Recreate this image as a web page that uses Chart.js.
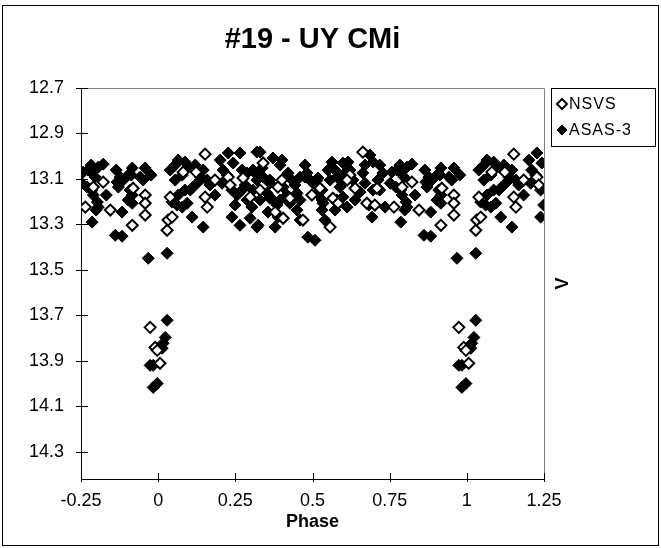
<!DOCTYPE html>
<html>
<head>
<meta charset="utf-8">
<title>#19 - UY CMi</title>
<script src="https://cdn.jsdelivr.net/npm/chart.js"></script>
<style>
  html, body { margin: 0; padding: 0; background: #fff; }
</style>
</head>
<body>
<canvas id="lightCurve" width="661" height="548"></canvas>
<script>
// folded V light curve of UY CMi, phases 0..1 (the wrap-around copies are added in foldPoints)
const nsvsPhase = [0.764, 0.790, 0.822, 0.845, 0.916, 0.919, 0.958, 0.958, 0.958, 0.974,
  0.990, 0.997, 0.006, 0.029, 0.032, 0.039, 0.045, 0.081, 0.152, 0.152,
  0.159, 0.184, 0.227, 0.233, 0.298, 0.340, 0.330, 0.401, 0.388, 0.405,
  0.379, 0.469, 0.498, 0.557, 0.566, 0.583, 0.663, 0.621, 0.612, 0.676,
  0.702, 0.709, 0.275, 0.427, 0.524, 0.638, 0.123];
const nsvsMag = [13.224, 13.136, 13.114, 13.237, 13.304, 13.141, 13.171, 13.207, 13.259, 13.753,
  13.841, 13.854, 13.911, 13.326, 13.281, 13.180, 13.268, 13.070, 12.991, 13.180,
  13.224, 13.105, 13.092, 13.127, 13.180, 13.030, 13.149, 13.105, 13.136, 13.273,
  13.246, 13.281, 13.171, 13.312, 13.185, 13.207, 12.982, 13.083, 13.105, 13.207,
  13.215, 13.141, 13.096, 13.185, 13.141, 13.141, 13.070];

const asasPhase = [0.757, 0.773, 0.786, 0.796, 0.806, 0.822, 0.752, 0.770, 0.786, 0.790,
  0.803, 0.806, 0.786, 0.861, 0.883, 0.877, 0.887, 0.867, 0.871, 0.916,
  0.903, 0.909, 0.916, 0.903, 0.883, 0.958, 0.942, 0.951, 0.916, 0.968,
  0.974, 0.984, 0.984, 0.997, 0.013, 0.016, 0.023, 0.029, 0.029, 0.039,
  0.065, 0.087, 0.097, 0.055, 0.045, 0.061, 0.078, 0.094, 0.104, 0.113,
  0.126, 0.136, 0.110, 0.146, 0.146, 0.136, 0.159, 0.210, 0.223, 0.207,
  0.227, 0.265, 0.243, 0.272, 0.288, 0.239, 0.256, 0.272, 0.249, 0.288,
  0.304, 0.239, 0.265, 0.298, 0.320, 0.320, 0.307, 0.320, 0.330, 0.372,
  0.340, 0.362, 0.353, 0.372, 0.307, 0.324, 0.379, 0.388, 0.421, 0.434,
  0.417, 0.427, 0.450, 0.460, 0.482, 0.492, 0.485, 0.508, 0.515, 0.531,
  0.534, 0.531, 0.563, 0.573, 0.557, 0.579, 0.589, 0.599, 0.612, 0.615,
  0.621, 0.631, 0.686, 0.696, 0.663, 0.670, 0.654, 0.696, 0.712, 0.728,
  0.693, 0.735, 0.320, 0.362, 0.405, 0.450, 0.460, 0.476, 0.502, 0.518,
  0.515, 0.531, 0.599, 0.599, 0.644, 0.579, 0.573, 0.330, 0.362, 0.385,
  0.718, 0.395, 0.055, 0.078, 0.120, 0.168, 0.184, 0.201, 0.087, 0.065,
  0.282, 0.337, 0.395, 0.443, 0.476, 0.401, 0.356, 0.460, 0.550, 0.605,
  0.638, 0.540, 0.670, 0.718, 0.683, 0.783, 0.832, 0.864, 0.913, 0.977,
  0.799];
const asasMag = [13.070, 13.061, 13.074, 13.092, 13.048, 13.035, 13.119, 13.136, 13.149, 13.171,
  13.202, 13.224, 13.290, 13.348, 13.352, 13.092, 13.105, 13.114, 13.136, 13.052,
  13.083, 13.149, 13.171, 13.193, 13.246, 13.052, 13.092, 13.105, 13.207, 13.449,
  13.920, 13.920, 14.017, 14.000, 13.845, 13.823, 13.797, 13.722, 13.427, 13.061,
  13.017, 13.026, 13.048, 13.105, 13.202, 13.215, 13.224, 13.207, 13.149, 13.136,
  13.119, 13.105, 13.268, 13.312, 13.061, 13.092, 13.105, 13.061, 13.083, 13.119,
  12.986, 12.986, 13.030, 13.061, 13.074, 13.149, 13.171, 13.149, 13.215, 13.193,
  13.224, 13.268, 13.304, 13.273, 13.312, 12.982, 13.061, 13.105, 12.982, 13.008,
  13.092, 13.105, 13.163, 13.193, 13.149, 13.304, 13.312, 13.268, 13.074, 13.105,
  13.171, 13.207, 13.237, 13.092, 13.074, 13.105, 13.356, 13.370, 13.105, 13.149,
  13.207, 13.237, 13.026, 13.061, 13.105, 13.092, 13.136, 13.180, 13.224, 13.026,
  13.061, 13.105, 12.995, 13.026, 13.074, 13.119, 13.158, 13.149, 13.105, 13.074,
  13.268, 13.224, 13.083, 13.119, 13.136, 13.163, 13.193, 13.092, 13.119, 13.096,
  13.163, 13.193, 13.030, 13.119, 13.149, 13.193, 13.237, 13.193, 13.185, 13.215,
  13.149, 13.039, 13.039, 13.083, 13.039, 13.127, 13.171, 13.017, 13.149, 13.171,
  13.127, 13.052, 13.193, 13.127, 13.039, 13.017, 13.246, 13.281, 13.061, 13.074,
  13.193, 13.281, 13.039, 13.039, 13.215, 13.039, 13.171, 13.061, 13.083, 13.083,
  13.237];

const phaseTicks = [-0.25, 0, 0.25, 0.5, 0.75, 1, 1.25];
const magTicks = [12.7, 12.9, 13.1, 13.3, 13.5, 13.7, 13.9, 14.1, 14.3];

const FONT = '"Liberation Sans", Arial, sans-serif';

// repeat the ends of the cycle so the plot runs from -0.25 to 1.25
function foldPoints(phases, mags) {
  const pts = [];
  phases.forEach((p, i) => {
    pts.push({ x: p, y: mags[i] });
    if (p >= 0.75) pts.push({ x: p - 1, y: mags[i] });
    if (p < 0.25) pts.push({ x: p + 1, y: mags[i] });
  });
  return pts;
}

const series = [
  { label: 'NSVS', fill: '#ffffff', border: 2, radius: 5.5 },
  { label: 'ASAS-3', fill: '#000000', border: 1, radius: 6 }
];

// frame, axis lines, tick marks, side label, legend and title
const decorations = {
  id: 'decorations',
  beforeDraw(chart) {
    const ctx = chart.ctx;
    ctx.save();
    ctx.fillStyle = '#fff';
    ctx.fillRect(0, 0, chart.width, chart.height);
    ctx.strokeStyle = '#000';
    ctx.lineWidth = 1;
    ctx.strokeRect(2.5, 5.5, chart.width - 5, chart.height - 8);
    ctx.restore();
  },
  beforeDatasetsDraw(chart) {
    const { ctx, chartArea: a, scales: { x, y } } = chart;
    ctx.save();
    ctx.lineWidth = 1;
    ctx.strokeStyle = '#808080';
    ctx.beginPath();
    ctx.moveTo(a.left, a.top + 0.5);
    ctx.lineTo(a.right + 0.5, a.top + 0.5);
    ctx.lineTo(a.right + 0.5, a.bottom);
    ctx.stroke();
    ctx.strokeStyle = '#000';
    ctx.beginPath();
    ctx.moveTo(a.left + 0.5, a.top);
    ctx.lineTo(a.left + 0.5, a.bottom + 0.5);
    ctx.lineTo(a.right + 1, a.bottom + 0.5);
    magTicks.forEach(v => {
      const py = Math.round(y.getPixelForValue(v)) + 0.5;
      ctx.moveTo(a.left - 5, py);
      ctx.lineTo(a.left + 7, py);
    });
    phaseTicks.forEach(v => {
      const px = Math.round(x.getPixelForValue(v)) + 0.5;
      ctx.moveTo(px, a.bottom - 6);
      ctx.lineTo(px, a.bottom + 3);
    });
    ctx.stroke();
    ctx.restore();
  },
  afterDraw(chart) {
    const { ctx, chartArea: a } = chart;
    ctx.save();
    ctx.fillStyle = '#000';

    ctx.font = 'bold 29px ' + FONT;
    ctx.textAlign = 'center';
    ctx.textBaseline = 'middle';
    ctx.fillText('#19 - UY CMi', (a.left + a.right) / 2, 40);

    ctx.save();
    ctx.translate(563, (a.top + a.bottom) / 2);
    ctx.rotate(-Math.PI / 2);
    ctx.font = 'bold 18px ' + FONT;
    ctx.fillText('V', 0, 0);
    ctx.restore();

    // legend box
    ctx.strokeStyle = '#000';
    ctx.lineWidth = 1;
    ctx.strokeRect(551.5, 88.5, 104, 58);
    ctx.font = '16px ' + FONT;
    ctx.textAlign = 'left';
    if ('letterSpacing' in ctx) ctx.letterSpacing = '1px';
    series.forEach((s, i) => {
      const ly = 104 + i * 26;
      ctx.fillStyle = s.fill;
      ctx.strokeStyle = '#000';
      ctx.lineWidth = s.border;
      Chart.helpers.drawPoint(ctx, { pointStyle: 'rectRot', radius: 5, rotation: 0, borderWidth: s.border }, 562, ly);
      ctx.fillStyle = '#000';
      ctx.fillText(s.label, 569, ly + 1);
    });
    ctx.restore();
  }
};

new Chart(document.getElementById('lightCurve'), {
  type: 'scatter',
  data: {
    datasets: series.map((s, i) => ({
      label: s.label,
      data: i === 0 ? foldPoints(nsvsPhase, nsvsMag) : foldPoints(asasPhase, asasMag),
      pointStyle: 'rectRot',
      pointRadius: s.radius,
      pointHoverRadius: s.radius,
      pointBackgroundColor: s.fill,
      pointBorderColor: '#000',
      pointBorderWidth: s.border
    }))
  },
  options: {
    responsive: false,
    animation: false,
    layout: { padding: { top: 88, right: 117, left: 0, bottom: 0 } },
    plugins: {
      legend: { display: false },
      title: { display: false },
      tooltip: { enabled: false }
    },
    scales: {
      x: {
        type: 'linear',
        min: -0.25,
        max: 1.25,
        afterBuildTicks: s => { s.ticks = phaseTicks.map(v => ({ value: v })); },
        afterFit: s => { s.height = 69; },
        grid: { display: false, drawTicks: false },
        border: { display: false },
        ticks: {
          color: '#000',
          font: { family: FONT, size: 18 },
          padding: 11,
          maxRotation: 0,
          callback: v => String(v)
        },
        title: {
          display: true,
          text: 'Phase',
          color: '#000',
          font: { family: FONT, size: 18, weight: 'bold' },
          padding: { top: 0, bottom: 15 }
        }
      },
      y: {
        type: 'linear',
        reverse: true,
        min: 12.7,
        max: 14.42,
        afterBuildTicks: s => { s.ticks = magTicks.map(v => ({ value: v })); },
        afterFit: s => { s.width = 81; },
        grid: { display: false, drawTicks: false },
        border: { display: false },
        ticks: {
          color: '#000',
          font: { family: FONT, size: 18 },
          padding: 17,
          callback: v => v.toFixed(1)
        }
      }
    }
  },
  plugins: [decorations]
});
</script>
</body>
</html>
